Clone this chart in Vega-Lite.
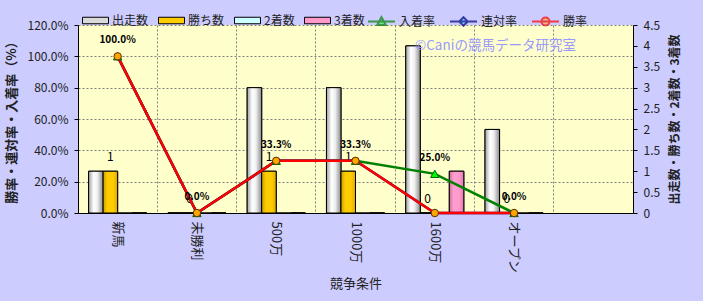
{
  "$schema": "https://vega.github.io/schema/vega-lite/v6.json",
  "width": 555,
  "height": 188,
  "autosize": {"type": "none"},
  "padding": {"left": 78, "top": 25, "right": 70, "bottom": 88},
  "background": "#ccccff",
  "title": {"text": "©Caniの競馬データ研究室", "orient": "top", "anchor": "start", "frame": "group", "offset": 0, "dx": 337, "dy": 52, "baseline": "middle", "color": "#9999ff", "fontSize": 13.5, "fontWeight": "normal", "font": "Noto Sans CJK JP"},
  "config": {
    "font": "Noto Sans CJK JP",
    "view": {"fill": "#ffffcc", "stroke": null},
    "axis": {"labelFont": "Noto Sans CJK JP", "titleFont": "Noto Sans CJK JP", "labelColor": "#222222", "titleColor": "#222222", "domainColor": "#000000", "tickColor": "#000000"},
    "legend": {"labelFont": "Noto Sans CJK JP", "labelFontSize": 12, "labelColor": "#222222", "padding": 0, "gridAlign": "none"}
  },
  "datasets": {
    "bars": [
      {"cat": "新馬", "series": "出走数", "value": 1},
      {"cat": "新馬", "series": "勝ち数", "value": 1},
      {"cat": "新馬", "series": "2着数", "value": 0},
      {"cat": "新馬", "series": "3着数", "value": 0},
      {"cat": "未勝利", "series": "出走数", "value": 0},
      {"cat": "未勝利", "series": "勝ち数", "value": 0},
      {"cat": "未勝利", "series": "2着数", "value": 0},
      {"cat": "未勝利", "series": "3着数", "value": 0},
      {"cat": "500万", "series": "出走数", "value": 3},
      {"cat": "500万", "series": "勝ち数", "value": 1},
      {"cat": "500万", "series": "2着数", "value": 0},
      {"cat": "500万", "series": "3着数", "value": 0},
      {"cat": "1000万", "series": "出走数", "value": 3},
      {"cat": "1000万", "series": "勝ち数", "value": 1},
      {"cat": "1000万", "series": "2着数", "value": 0},
      {"cat": "1000万", "series": "3着数", "value": 0},
      {"cat": "1600万", "series": "出走数", "value": 4},
      {"cat": "1600万", "series": "勝ち数", "value": 0},
      {"cat": "1600万", "series": "2着数", "value": 0},
      {"cat": "1600万", "series": "3着数", "value": 1},
      {"cat": "オープン", "series": "出走数", "value": 2},
      {"cat": "オープン", "series": "勝ち数", "value": 0},
      {"cat": "オープン", "series": "2着数", "value": 0},
      {"cat": "オープン", "series": "3着数", "value": 0}
    ],
    "rates": [
      {"cat": "新馬", "series": "入着率", "value": 1},
      {"cat": "未勝利", "series": "入着率", "value": 0},
      {"cat": "500万", "series": "入着率", "value": 0.333},
      {"cat": "1000万", "series": "入着率", "value": 0.333},
      {"cat": "1600万", "series": "入着率", "value": 0.25},
      {"cat": "オープン", "series": "入着率", "value": 0},
      {"cat": "新馬", "series": "連対率", "value": 1},
      {"cat": "未勝利", "series": "連対率", "value": 0},
      {"cat": "500万", "series": "連対率", "value": 0.333},
      {"cat": "1000万", "series": "連対率", "value": 0.333},
      {"cat": "1600万", "series": "連対率", "value": 0},
      {"cat": "オープン", "series": "連対率", "value": 0},
      {"cat": "新馬", "series": "勝率", "value": 1},
      {"cat": "未勝利", "series": "勝率", "value": 0},
      {"cat": "500万", "series": "勝率", "value": 0.333},
      {"cat": "1000万", "series": "勝率", "value": 0.333},
      {"cat": "1600万", "series": "勝率", "value": 0},
      {"cat": "オープン", "series": "勝率", "value": 0}
    ]
  },
  "resolve": {"scale": {"y": "independent"}, "axis": {"x": "independent"}},
  "layer": [
    {
      "data": {"name": "bars"},
      "encoding": {
        "x": {"field": "cat", "type": "nominal", "scale": {"domain": ["新馬", "未勝利", "500万", "1000万", "1600万", "オープン", " "], "paddingInner": 0, "paddingOuter": 0},
          "axis": {"orient": "bottom", "grid": true, "bandPosition": 0, "gridDash": [2, 2], "gridColor": "#808080", "labels": false, "ticks": false, "domain": false, "title": null}},
        "xOffset": {"field": "series", "type": "nominal", "scale": {"domain": ["出走数", "勝ち数", "2着数", "3着数"], "paddingInner": 0, "paddingOuter": 0.73}},
        "y": {"field": "value", "type": "quantitative", "scale": {"domain": [0, 4.5], "nice": false},
          "axis": {"orient": "right", "values": [0, 0.5, 1, 1.5, 2, 2.5, 3, 3.5, 4, 4.5], "format": "~g", "grid": false, "tickSize": 4, "labelPadding": 6, "labelFontSize": 12, "title": "出走数・勝ち数・2着数・3着数", "titleAngle": 270, "titleBaseline": "top", "titleFontSize": 12, "titleFontWeight": "bold", "titlePadding": 10}}
      },
      "layer": [
        {
          "mark": {"type": "bar", "stroke": "#000000", "strokeWidth": 1},
          "encoding": {
            "color": {"field": "series", "type": "nominal",
              "scale": {"domain": ["出走数", "勝ち数", "2着数", "3着数"], "range": ["#d9d9d9", "#ffcc00", "#ccffff", "#ff99cc"]},
              "legend": {"orient": "none", "legendX": 4, "legendY": -18, "direction": "horizontal", "columns": 4, "gridAlign": "none", "title": null, "symbolType": "M-1,-0.25H1V0.25H-1Z", "symbolSize": 676, "symbolStrokeColor": "#000000", "symbolStrokeWidth": 1, "labelOffset": 3, "columnPadding": 7, "labelFontSize": 12}}
          }
        },
        {
          "transform": [{"filter": "datum.series === '出走数'"}],
          "mark": {"type": "bar", "stroke": "#000000", "strokeWidth": 1,
            "fill": {"gradient": "linear", "x1": 0, "x2": 1, "y1": 0, "y2": 0, "stops": [{"offset": 0, "color": "#a0a0a0"}, {"offset": 0.35, "color": "#ffffff"}, {"offset": 0.6, "color": "#f0f0f0"}, {"offset": 1, "color": "#8c8c8c"}]}}
        },
        {
          "transform": [{"filter": "datum.series === '勝ち数'"}],
          "mark": {"type": "bar", "stroke": "#000000", "strokeWidth": 1,
            "fill": {"gradient": "linear", "x1": 0, "x2": 1, "y1": 0, "y2": 0, "stops": [{"offset": 0, "color": "#c89e00"}, {"offset": 0.3, "color": "#ffcc00"}, {"offset": 0.7, "color": "#ffcc00"}, {"offset": 1, "color": "#d9a800"}]}}
        },
        {
          "transform": [{"filter": "datum.series === '3着数'"}],
          "mark": {"type": "bar", "stroke": "#000000", "strokeWidth": 1,
            "fill": {"gradient": "linear", "x1": 0, "x2": 1, "y1": 0, "y2": 0, "stops": [{"offset": 0, "color": "#d070a0"}, {"offset": 0.3, "color": "#ff9fcf"}, {"offset": 0.7, "color": "#ff99cc"}, {"offset": 1, "color": "#e07aae"}]}}
        },
        {
          "transform": [{"filter": "datum.series === '勝ち数'"}],
          "mark": {"type": "text", "dy": -14, "baseline": "middle", "fontSize": 12, "color": "#000000"},
          "encoding": {"text": {"field": "value", "type": "quantitative", "format": "d"}}
        }
      ]
    },
    {
      "data": {"name": "rates"},
      "encoding": {
        "x": {"field": "cat", "type": "nominal", "scale": {"domain": ["新馬", "未勝利", "500万", "1000万", "1600万", "オープン", " "], "paddingInner": 0, "paddingOuter": 0},
          "axis": {"orient": "bottom", "labelAngle": 90, "labelFontSize": 13, "ticks": false, "domain": true, "grid": false, "labelPadding": 8, "title": "競争条件", "titleFontSize": 13, "titleFontWeight": "normal", "titlePadding": 4}},
        "y": {"field": "value", "type": "quantitative", "scale": {"domain": [0, 1.2], "nice": false},
          "axis": {"orient": "left", "values": [0, 0.2, 0.4, 0.6, 0.8, 1, 1.2], "format": ".1%", "grid": true, "gridDash": [2, 2], "gridColor": "#808080", "tickSize": 4, "labelPadding": 6, "labelFontSize": 12, "title": "勝率・連対率・入着率（%）", "titleFontSize": 13, "titleFontWeight": "bold", "titlePadding": 8}}
      },
      "layer": [
        {"transform": [{"filter": "datum.series === '入着率'"}], "mark": {"type": "line", "color": "#008000", "strokeWidth": 2.5}, "encoding": {}},
        {"transform": [{"filter": "datum.series === '連対率'"}], "mark": {"type": "line", "color": "#000080", "strokeWidth": 2.5}, "encoding": {}},
        {"transform": [{"filter": "datum.series === '勝率'"}], "mark": {"type": "line", "color": "#ff0000", "strokeWidth": 2.5}, "encoding": {}},
        {"transform": [{"filter": "datum.series === '入着率'"}], "mark": {"type": "point", "shape": "triangle-up", "filled": true, "fill": "#00ff00", "stroke": "#006400", "strokeWidth": 1, "size": 70, "opacity": 1}},
        {"transform": [{"filter": "datum.series === '連対率'"}], "mark": {"type": "point", "shape": "diamond", "filled": true, "fill": "#00ffff", "stroke": "#000080", "strokeWidth": 1, "size": 50, "opacity": 1}},
        {"transform": [{"filter": "datum.series === '勝率'"}], "mark": {"type": "point", "shape": "circle", "filled": true, "fill": "#ffa500", "stroke": "#5a3000", "strokeWidth": 1, "size": 55, "opacity": 1}},
        {
          "transform": [{"filter": "datum.series === '入着率'"}],
          "mark": {"type": "text", "dy": -16, "baseline": "middle", "fontSize": 10, "fontWeight": "bold", "color": "#000000"},
          "encoding": {"text": {"field": "value", "type": "quantitative", "format": ".1%"}}
        },
        {
          "data": {"values": []},
          "mark": {"type": "point", "filled": true},
          "encoding": {
            "shape": {"field": "series", "type": "nominal",
              "scale": {"domain": ["入着率", "連対率", "勝率"], "range": ["M-1,0H1M0,-0.32L0.32,0.26L-0.32,0.26Z", "M-1,0H1M0,-0.32L0.32,0L0,0.32L-0.32,0Z", "M-1,0H1M0.3,0A0.3,0.3,0,1,1,-0.3,0A0.3,0.3,0,1,1,0.3,0Z"]},
              "legend": {"orient": "none", "legendX": 289, "legendY": -18, "direction": "horizontal", "columns": 3, "gridAlign": "none", "title": null, "symbolSize": 729, "symbolStrokeWidth": 2, "labelOffset": 3, "columnPadding": 10, "labelFontSize": 12}},
            "fill": {"field": "series", "type": "nominal",
              "scale": {"domain": ["入着率", "連対率", "勝率"], "range": ["#00ff00", "#00ffff", "#ffa500"]},
              "legend": {"orient": "none", "legendX": 289, "legendY": -18, "direction": "horizontal", "columns": 3, "gridAlign": "none", "title": null, "symbolSize": 729, "symbolStrokeWidth": 2, "labelOffset": 3, "columnPadding": 10, "labelFontSize": 12}},
            "stroke": {"field": "series", "type": "nominal",
              "scale": {"domain": ["入着率", "連対率", "勝率"], "range": ["#008000", "#000080", "#ff0000"]},
              "legend": {"orient": "none", "legendX": 289, "legendY": -18, "direction": "horizontal", "columns": 3, "gridAlign": "none", "title": null, "symbolSize": 729, "symbolStrokeWidth": 2, "labelOffset": 3, "columnPadding": 10, "labelFontSize": 12}}
          }
        }
      ]
    }
  ]
}
